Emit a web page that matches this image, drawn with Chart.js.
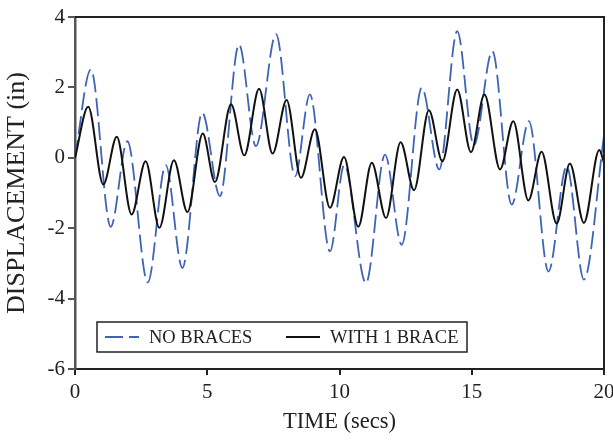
<!DOCTYPE html>
<html lang="en">
<head>
<meta charset="UTF-8">
<title>Displacement vs time</title>
<script src="https://cdn.jsdelivr.net/npm/chart.js@4.4.1/dist/chart.umd.min.js"></script>
<style>
  html, body { margin: 0; padding: 0; background: #fff; }
  #wrap { width: 613px; height: 440px; }
</style>
</head>
<body>
<div id="wrap"><canvas id="chart" width="613" height="440"></canvas></div>
<script>
// peaks and troughs (secs, inches)
const noBraceTimes = [0, 0.60, 1.35, 1.98, 2.75, 3.43, 4.06, 4.81, 5.48, 6.20, 6.84, 7.60, 8.32, 8.88, 9.64,
  10.18, 11.00, 11.72, 12.35, 13.11, 13.77, 14.45, 15.08, 15.78, 16.51, 17.16, 17.90, 18.59, 19.24, 20.00];
const noBraceValues = [0, 2.51, -1.96, 0.47, -3.54, -0.21, -3.13, 1.28, -1.09, 3.22, 0.33, 3.51, -0.52, 1.80, -2.66,
  -0.20, -3.56, 0.09, -2.47, 1.99, -0.33, 3.60, 0.36, 3.03, -1.33, 1.04, -3.23, -0.24, -3.46, 0.63];

const oneBraceTimes = [0, 0.50, 1.07, 1.58, 2.14, 2.67, 3.19, 3.74, 4.25, 4.83, 5.29, 5.90, 6.40, 6.96, 7.47, 8.00,
  8.54, 9.07, 9.64, 10.17, 10.71, 11.22, 11.76, 12.31, 12.82, 13.38, 13.89, 14.45, 14.97, 15.48, 16.07,
  16.57, 17.14, 17.64, 18.21, 18.71, 19.24, 19.82, 20.00];
const oneBraceValues = [0, 1.45, -0.76, 0.60, -1.61, -0.10, -1.99, -0.07, -1.54, 0.69, -0.69, 1.52, 0.07, 1.96, 0.12, 1.64,
  -0.57, 0.81, -1.42, 0.02, -1.96, -0.14, -1.71, 0.44, -0.92, 1.35, -0.10, 1.94, 0.16, 1.80, -0.33,
  1.04, -1.21, 0.17, -1.87, -0.16, -1.85, 0.22, -0.14];

const seriesLabels = ['NO BRACES', 'WITH 1 BRACE'];
const xTicks = [0, 5, 10, 15, 20];
const yTicks = [-6, -4, -2, 0, 2, 4];

const serif = 'Liberation Serif, Times New Roman, serif';

function toPoints(ts, vs) {
  return ts.map((t, i) => ({ x: t, y: vs[i] }));
}

// box round the plot plus the legend inside it
const framePlugin = {
  id: 'frame',
  afterDraw(chart) {
    const { ctx, chartArea: a } = chart;
    ctx.save();
    ctx.strokeStyle = '#222';
    ctx.lineWidth = 2;
    ctx.beginPath();
    ctx.moveTo(a.left, a.top);
    ctx.lineTo(a.right, a.top);
    ctx.lineTo(a.right, a.bottom);
    ctx.stroke();

    // legend
    const bx = a.left + 22, by = a.bottom - 47, bw = 370, bh = 30;
    ctx.fillStyle = '#fff';
    ctx.fillRect(bx, by, bw, bh);
    ctx.strokeStyle = '#222';
    ctx.lineWidth = 1.5;
    ctx.strokeRect(bx, by, bw, bh);
    const my = by + bh / 2;
    const items = [{ x: bx + 8, tx: bx + 52 }, { x: bx + 189, tx: bx + 233 }];
    chart.data.datasets.forEach((ds, i) => {
      const it = items[i];
      ctx.strokeStyle = ds.borderColor;
      ctx.lineWidth = ds.borderWidth;
      ctx.setLineDash(ds.borderDash || []);
      ctx.beginPath();
      ctx.moveTo(it.x, my);
      ctx.lineTo(it.x + 34, my);
      ctx.stroke();
      ctx.setLineDash([]);
      ctx.fillStyle = '#222';
      ctx.font = '18.5px ' + serif;
      ctx.textBaseline = 'middle';
      ctx.fillText(ds.label, it.tx, my + 1);
    });
    ctx.restore();
  }
};

new Chart(document.getElementById('chart'), {
  type: 'line',
  data: {
    datasets: [{
      label: seriesLabels[0],
      data: toPoints(noBraceTimes, noBraceValues),
      borderColor: '#3d64b9',
      borderWidth: 1.8,
      borderDash: [18, 6],
      cubicInterpolationMode: 'monotone',
      pointRadius: 0,
      order: 2
    }, {
      label: seriesLabels[1],
      data: toPoints(oneBraceTimes, oneBraceValues),
      borderColor: '#111',
      borderWidth: 2,
      cubicInterpolationMode: 'monotone',
      pointRadius: 0,
      order: 1
    }]
  },
  options: {
    responsive: false,
    animation: false,
    devicePixelRatio: 1,
    layout: { padding: { top: 17, right: 9, left: 0, bottom: 0 } },
    plugins: { legend: { display: false }, tooltip: { enabled: false } },
    scales: {
      x: {
        type: 'linear',
        min: 0, max: 20,
        afterBuildTicks: s => { s.ticks = xTicks.map(v => ({ value: v })); },
        afterFit: s => { s.height = 71; s.paddingRight = 0; s.paddingLeft = 0; },
        border: { color: '#222', width: 2 },
        grid: { drawOnChartArea: false, tickLength: 6, color: '#222', lineWidth: 2 },
        ticks: { color: '#222', padding: 5, maxRotation: 0, font: { family: serif, size: 21 } },
        title: { display: true, text: 'TIME (secs)', color: '#222', padding: { top: 0, bottom: 4 },
          font: { family: serif, size: 22.5 } }
      },
      y: {
        min: -6, max: 4,
        afterBuildTicks: s => { s.ticks = yTicks.map(v => ({ value: v })); },
        afterFit: s => { s.width = 75; },
        border: { color: '#555', width: 2.5 },
        grid: { drawOnChartArea: false, tickLength: 7, color: '#555', lineWidth: 2 },
        ticks: { color: '#222', padding: 3, font: { family: serif, size: 21 } },
        title: { display: true, text: 'DISPLACEMENT (in)', color: '#222', padding: { top: 2, bottom: 0 },
          font: { family: serif, size: 26 } }
      }
    }
  },
  plugins: [framePlugin]
});
</script>
</body>
</html>
